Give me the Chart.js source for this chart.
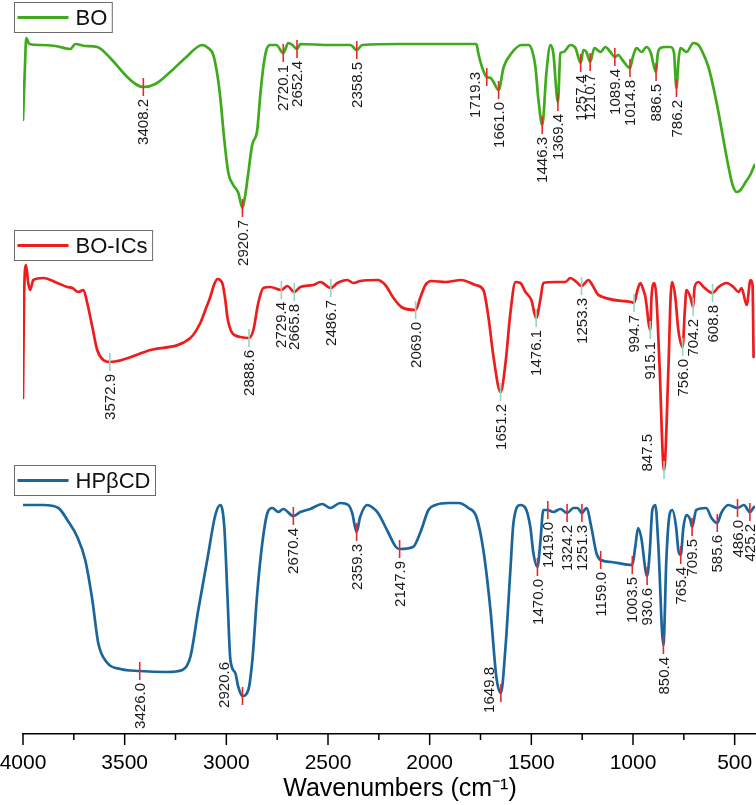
<!DOCTYPE html>
<html>
<head>
<meta charset="utf-8">
<script src="https://cdn.jsdelivr.net/npm/chart.js@4.4.0/dist/chart.umd.min.js"></script>
<style>
html,body{margin:0;padding:0;background:#fff;}
#wrap{position:relative;width:756px;height:805px;}
</style>
</head>
<body>
<div id="wrap"><canvas id="c" width="756" height="805"></canvas></div>
<script>
// ---------------- DATA (y in arbitrary offset units) ----------------
const seriesNames = ['BO', 'BO-ICs', 'HPβCD'];

const boWavenumbers = [4000,3991,3984,3969,3915,3841,3767,3743,3694,3635,3571,3497,3447,3408.2,3349,3276,3202,3118,3089,3064,3044,3030,3010,2990,2966,2941,2920.7,2907,2892,2873,2848,2833,2818,2803,2784,2754,2720.1,2695,2675,2652.4,2636,2488,2390,2358.5,2331,2145,1948,1770,1761,1741,1719.3,1700,1686,1661.0,1636,1597,1548,1513,1494,1480,1465,1446.3,1426,1406,1392,1369.4,1357,1342,1308,1283,1257.4,1244,1229,1210.7,1190,1160,1136,1111,1089.4,1072,1052,1014.8,1002,983,958,934,914,886.5,879,865,840,815,799,786.2,776,767,737,703,678,663,629,604,579,555,530,510,490,471,446,421,402];
const boValues      = [614,664,696,690,689,688,685,690,688,687,676,659,650,647,650,662,676,689,686,679,659,637,594,561,549,541,526,539,561,589,604,639,667,684,689,689,681,691,689,685,690,689,689,684,689,690,690,690,681,666,657,656,652,644,667,681,689,689,682,667,634,609,661,689,681,632,681,682,689,686,671,684,682,672,686,682,687,682,677,679,674,666,676,686,682,687,682,662,679,686,687,687,682,646,674,686,682,691,689,684,667,646,621,594,567,549,542,544,552,560,569];

const icWavenumbers = [4000,3995,3985,3975,3965,3949,3900,3831,3782,3757,3728,3703,3684,3659,3635,3605,3572.9,3373,3177,3128,3103,3079,3059,3044,3020,3005,2995,2971,2931,2888.6,2867,2843,2818,2784,2729.4,2700,2665.8,2636,2572,2538,2486.7,2454,2405,2375,2341,2257,2218,2178,2139,2069.0,2045,2021,1991,1923,1844,1775,1736,1711,1686,1651.2,1627,1603,1578,1554,1529,1500,1476.1,1456,1441,1382,1333,1308,1278,1253.3,1219,1200,1170,1008,994.7,978,964,949,939,915.1,909,895,885,870,847.5,825,815,808,792,777,756.0,745,737,718,704.2,697,678,653,608.8,579,540,506,481,466,441,422,412,407];
const icValues      = [336,434,469,452,444,454,456,451,447,446,442,444,431,407,384,374,372,384,396,411,424,437,450,455,451,434,417,401,397,396,404,431,446,447,444,448,442,447,449,452,446,451,454,451,453,454,449,436,427,424,437,449,453,452,454,449,444,417,377,342,371,421,452,451,442,434,416,434,451,452,452,456,452,448,454,449,439,432,431,444,451,444,437,404,437,451,437,371,264,371,437,452,437,404,387,424,444,437,427,447,452,447,441,447,451,447,442,446,429,454,449,377];

const cdWavenumbers = [4000,3900,3826,3782,3733,3694,3659,3630,3585,3521,3426.0,3290,3216,3177,3138,3094,3054,3030,3010,2995,2980,2956,2941,2920.6,2892,2872,2848,2823,2798,2774,2744,2720,2670.4,2636,2587,2528,2489,2440,2400,2381,2359.3,2342,2307,2278,2254,2205,2166,2147.9,2082,2045,2006,1971,1908,1858,1809,1770,1736,1701,1672,1649.8,1627,1603,1588,1554,1529,1505,1490,1470.0,1456,1441,1419.0,1392,1357,1324.2,1293,1273,1251.3,1229,1205,1180,1159.0,1107,1003.5,989,975,960,930.6,918,905,890,876,850.4,836,822,807,788,777,765.4,752,737,718,709.5,689,640,614,585.6,566,531,486.0,455,425.2,405];
const cdValues      = [229,229,226,214,197,174,134,91,71,65,63,62,64,77,124,174,219,229,207,141,74,61,47,38,44,74,141,191,221,226,222,225,218,222,225,230,226,231,229,221,202,217,229,226,221,202,187,185,187,202,224,229,231,231,226,217,184,124,57,41,87,164,211,229,226,207,181,167,191,224,224,222,225,221,226,226,221,226,207,181,174,172,169,187,206,197,158,181,224,229,191,89,174,217,224,207,184,179,207,219,214,207,224,226,216,211,221,229,226,229,222,227];

// labelled peaks (wavenumbers) for each series
const boPeaks = [3408.2,2920.7,2720.1,2652.4,2358.5,1719.3,1661.0,1446.3,1369.4,1257.4,1210.7,1089.4,1014.8,886.5,786.2];
const icPeaks = [3572.9,2888.6,2729.4,2665.8,2486.7,2069.0,1651.2,1476.1,1253.3,994.7,915.1,847.5,756.0,704.2,608.8];
const cdPeaks = [3426.0,2920.6,2670.4,2359.3,2147.9,1649.8,1470.0,1419.0,1324.2,1251.3,1159.0,1003.5,930.6,850.4,765.4,709.5,585.6,486.0,425.2];

// x-axis tick labels
const xTickLabels = [4000,3500,3000,2500,2000,1500,1000,500];

// ---------------- STYLE ----------------
const FONT = '"Liberation Sans", Arial, Helvetica, sans-serif';
const lineColors = ['#3fab1c', '#ee1c1c', '#1a659b'];
const peakTickColors = ['#e8262b', '#93d6c0', '#e8262b'];
const legendTopValues = [732, 504, 269];     // in y-scale units
// label nudges: [dx px, top offset px relative to curve]
const labelNudge = {
  '1719.3': [-11, -5],
  '847.5': [-16, -36],
  '2920.6': [-18, -34],
  '1649.8': [-11, -26]
};

// ---------------- BUILD ----------------
const wnSets = [boWavenumbers, icWavenumbers, cdWavenumbers];
const valSets = [boValues, icValues, cdValues];
const peakSets = [boPeaks, icPeaks, cdPeaks];

function interp(wns, vals, w) {
  for (let i = 0; i < wns.length - 1; i++) {
    const a = wns[i], b = wns[i + 1];
    if ((w <= a && w >= b)) {
      const t = (a - w) / (a - b || 1);
      return vals[i] + t * (vals[i + 1] - vals[i]);
    }
  }
  return vals[vals.length - 1];
}

const datasets = seriesNames.map((name, i) => ({
  label: name,
  data: wnSets[i].map((w, k) => ({x: w, y: valSets[i][k]})),
  borderColor: lineColors[i],
  borderWidth: 2.7,
  pointRadius: 0,
  fill: false,
  cubicInterpolationMode: 'monotone',
  borderJoinStyle: 'round',
  borderCapStyle: 'round'
}));

const axisTicksPlugin = {
  id: 'axisTicks',
  afterDraw(chart) {
    const xs = chart.scales.x;
    const ctx = chart.ctx;
    const bottom = chart.chartArea.bottom;
    ctx.save();
    ctx.strokeStyle = '#000';
    ctx.lineWidth = 1.5;
    xs.ticks.forEach(t => {
      if (t.value % 250 !== 0) return;
      const x = xs.getPixelForValue(t.value);
      const len = xTickLabels.includes(t.value) ? 11 : 6;
      ctx.beginPath();
      ctx.moveTo(x, bottom);
      ctx.lineTo(x, bottom + len);
      ctx.stroke();
    });
    ctx.restore();
  }
};

const peaksPlugin = {
  id: 'peaks',
  afterDatasetsDraw(chart) {
    const xs = chart.scales.x, ys = chart.scales.y;
    const ctx = chart.ctx;
    ctx.save();
    peakSets.forEach((peaks, i) => {
      peaks.forEach(w => {
        const v = interp(wnSets[i], valSets[i], w);
        const x = xs.getPixelForValue(w);
        const y = ys.getPixelForValue(v);
        ctx.strokeStyle = peakTickColors[i];
        ctx.lineWidth = 1.6;
        ctx.beginPath();
        ctx.moveTo(x, y - 9);
        ctx.lineTo(x, y + 9);
        ctx.stroke();
        const txt = w.toFixed(1);
        const nudge = labelNudge[txt] || [1, 12];
        ctx.save();
        ctx.translate(x + nudge[0], y + nudge[1]);
        ctx.rotate(-Math.PI / 2);
        ctx.fillStyle = '#1a1a1a';
        ctx.font = '15px ' + FONT;
        ctx.textAlign = 'right';
        ctx.textBaseline = 'middle';
        ctx.fillText(txt, 0, 0);
        ctx.restore();
      });
    });
    ctx.restore();
  }
};

const legendPlugin = {
  id: 'boxLegends',
  afterDraw(chart) {
    const ys = chart.scales.y;
    const ctx = chart.ctx;
    ctx.save();
    seriesNames.forEach((name, i) => {
      const top = Math.round(ys.getPixelForValue(legendTopValues[i])) + 0.5;
      const left = 14.5, h = 30;
      ctx.font = '22px ' + FONT;
      const tw = ctx.measureText(name).width;
      const w = 61 + tw + 5;
      ctx.strokeStyle = '#6a6a6a';
      ctx.lineWidth = 1;
      ctx.strokeRect(left, top, w, h);
      ctx.strokeStyle = lineColors[i];
      ctx.lineWidth = 3;
      ctx.beginPath();
      ctx.moveTo(left + 3, top + h / 2);
      ctx.lineTo(left + 54, top + h / 2);
      ctx.stroke();
      ctx.fillStyle = '#111';
      ctx.textAlign = 'left';
      ctx.textBaseline = 'middle';
      ctx.fillText(name, left + 61, top + h / 2 + 1);
    });
    ctx.restore();
  }
};

new Chart(document.getElementById('c'), {
  type: 'line',
  data: {datasets},
  options: {
    responsive: false,
    animation: false,
    devicePixelRatio: 1,
    layout: {padding: {top: 4, left: 23, right: 1, bottom: 0}},
    plugins: {legend: {display: false}, tooltip: {enabled: false}},
    scales: {
      x: {
        type: 'linear',
        reverse: true,
        min: 400,
        max: 4000,
        grid: {display: false, drawTicks: false},
        border: {display: true, color: '#000', width: 1.5},
        ticks: {
          stepSize: 250,
          includeBounds: false,
          autoSkip: false,
          maxRotation: 0,
          padding: 17,
          color: '#000',
          font: {family: FONT, size: 21},
          callback: (v) => xTickLabels.includes(v) ? String(v) : ''
        },
        title: {
          display: true,
          text: 'Wavenumbers (cm⁻¹)',
          color: '#000',
          font: {family: FONT, size: 25},
          padding: {top: 0, bottom: 1}
        },
        afterFit: (s) => {
          s.height = 71; s.paddingLeft = 0; s.paddingRight = 0;
          if (!s._titleShifted) {
            const orig = s.drawTitle;
            s.drawTitle = function () {
              this.ctx.save();
              this.ctx.translate(11, 0);
              orig.apply(this, arguments);
              this.ctx.restore();
            };
            s._titleShifted = true;
          }
        }
      },
      y: {display: false, min: 0, max: 730}
    }
  },
  plugins: [axisTicksPlugin, peaksPlugin, legendPlugin]
});
</script>
</body>
</html>
